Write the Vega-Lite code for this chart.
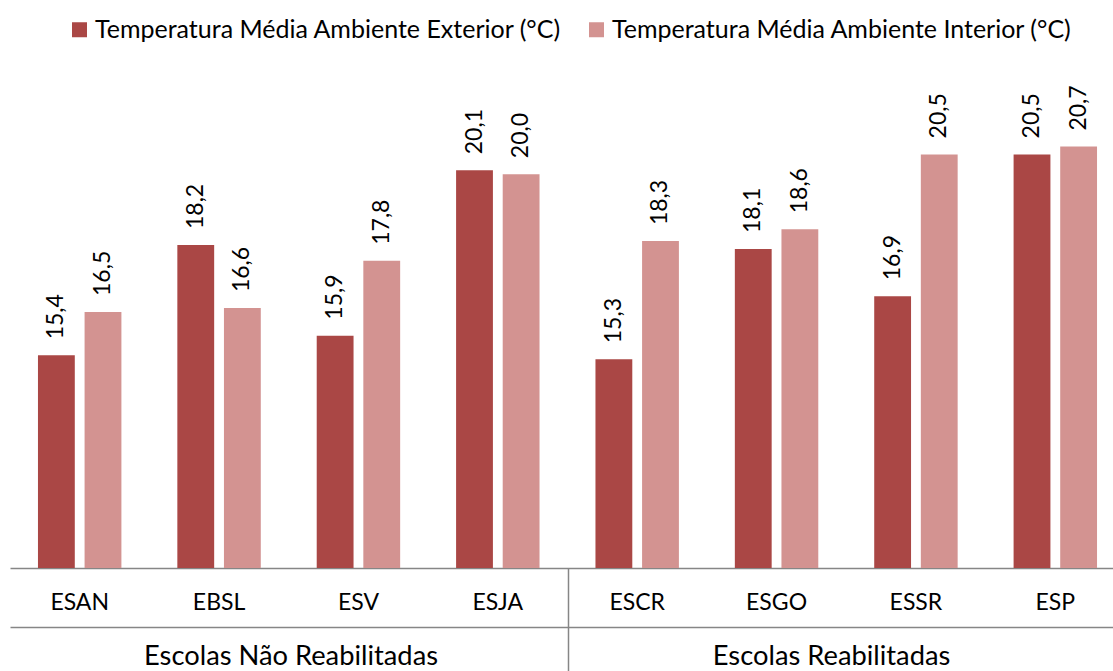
{
  "$schema": "https://vega.github.io/schema/vega-lite/v6.json",
  "width": 1103,
  "height": 512,
  "autosize": {"type": "none"},
  "padding": {"left": 10, "top": 56, "right": 0, "bottom": 103},
  "config": {
    "view": {"stroke": null},
    "font": "Lato",
    "locale": {"number": {"decimal": ",", "thousands": ".", "grouping": [3], "currency": ["", " €"]}}
  },
  "data": {
    "values": [
      {"escola": "ESAN", "grupo": "Escolas Não Reabilitadas", "serie": "Temperatura Média Ambiente Exterior (°C)", "valor": 15.4},
      {"escola": "ESAN", "grupo": "Escolas Não Reabilitadas", "serie": "Temperatura Média Ambiente Interior (°C)", "valor": 16.5},
      {"escola": "EBSL", "grupo": "Escolas Não Reabilitadas", "serie": "Temperatura Média Ambiente Exterior (°C)", "valor": 18.2},
      {"escola": "EBSL", "grupo": "Escolas Não Reabilitadas", "serie": "Temperatura Média Ambiente Interior (°C)", "valor": 16.6},
      {"escola": "ESV", "grupo": "Escolas Não Reabilitadas", "serie": "Temperatura Média Ambiente Exterior (°C)", "valor": 15.9},
      {"escola": "ESV", "grupo": "Escolas Não Reabilitadas", "serie": "Temperatura Média Ambiente Interior (°C)", "valor": 17.8},
      {"escola": "ESJA", "grupo": "Escolas Não Reabilitadas", "serie": "Temperatura Média Ambiente Exterior (°C)", "valor": 20.1},
      {"escola": "ESJA", "grupo": "Escolas Não Reabilitadas", "serie": "Temperatura Média Ambiente Interior (°C)", "valor": 20.0},
      {"escola": "ESCR", "grupo": "Escolas Reabilitadas", "serie": "Temperatura Média Ambiente Exterior (°C)", "valor": 15.3},
      {"escola": "ESCR", "grupo": "Escolas Reabilitadas", "serie": "Temperatura Média Ambiente Interior (°C)", "valor": 18.3},
      {"escola": "ESGO", "grupo": "Escolas Reabilitadas", "serie": "Temperatura Média Ambiente Exterior (°C)", "valor": 18.1},
      {"escola": "ESGO", "grupo": "Escolas Reabilitadas", "serie": "Temperatura Média Ambiente Interior (°C)", "valor": 18.6},
      {"escola": "ESSR", "grupo": "Escolas Reabilitadas", "serie": "Temperatura Média Ambiente Exterior (°C)", "valor": 16.9},
      {"escola": "ESSR", "grupo": "Escolas Reabilitadas", "serie": "Temperatura Média Ambiente Interior (°C)", "valor": 20.5},
      {"escola": "ESP", "grupo": "Escolas Reabilitadas", "serie": "Temperatura Média Ambiente Exterior (°C)", "valor": 20.5},
      {"escola": "ESP", "grupo": "Escolas Reabilitadas", "serie": "Temperatura Média Ambiente Interior (°C)", "valor": 20.7}
    ]
  },
  "encoding": {
    "xOffset": {
      "field": "serie",
      "type": "nominal",
      "scale": {
        "domain": ["Temperatura Média Ambiente Exterior (°C)", "Temperatura Média Ambiente Interior (°C)"],
        "paddingInner": 0.21,
        "paddingOuter": 0.6
      }
    },
    "y": {"field": "valor", "type": "quantitative", "scale": {"domain": [10, 23]}, "axis": null}
  },
  "layer": [
    {
      "mark": {"type": "bar"},
      "encoding": {
        "x": {
          "field": "escola",
          "type": "nominal",
          "sort": ["ESAN", "EBSL", "ESV", "ESJA", "ESCR", "ESGO", "ESSR", "ESP"],
          "scale": {"paddingInner": 0, "paddingOuter": 0, "range": [0, 1115]},
          "axis": {
            "orient": "bottom",
            "title": null,
            "ticks": false,
            "domain": true,
            "domainColor": "#868686",
            "domainWidth": 1.5,
            "labelFontSize": 23,
            "labelColor": "#000000",
            "labelPadding": 23,
            "labelAngle": 0
          }
        },
        "y2": {"datum": 10},
        "color": {
          "field": "serie",
          "type": "nominal",
          "scale": {
            "domain": ["Temperatura Média Ambiente Exterior (°C)", "Temperatura Média Ambiente Interior (°C)"],
            "range": ["#AA4745", "#D39391"]
          },
          "legend": {
            "orient": "none",
            "legendX": 57,
            "legendY": -39,
            "direction": "horizontal",
            "title": null,
            "symbolType": "square",
            "symbolSize": 225,
            "symbolStrokeWidth": 0,
            "labelFontSize": 25,
            "labelColor": "#000000",
            "labelOffset": 3,
            "columnPadding": 22,
            "labelLimit": 800
          }
        }
      }
    },
    {
      "transform": [{"filter": "datum.serie === 'Temperatura Média Ambiente Exterior (°C)'"}],
      "mark": {"type": "text", "angle": 270, "align": "left", "baseline": "middle", "dx": 16, "fontSize": 23, "color": "#000000"},
      "encoding": {
        "x": {
          "field": "escola",
          "type": "nominal",
          "sort": ["ESAN", "EBSL", "ESV", "ESJA", "ESCR", "ESGO", "ESSR", "ESP"],
          "axis": {
            "orient": "bottom",
            "title": null,
            "values": ["EBSL", "ESGO"],
            "labelExpr": "datum.value === 'EBSL' ? 'Escolas Não Reabilitadas' : 'Escolas Reabilitadas'",
            "labelOffset": {"condition": {"test": "datum.value === 'ESGO'", "value": 55}, "value": 72},
            "ticks": false,
            "domain": true,
            "domainColor": "#868686",
            "domainWidth": 1.5,
            "offset": 59,
            "labelFontSize": 27.3,
            "labelColor": "#000000",
            "labelPadding": 15,
            "labelAngle": 0,
            "labelLimit": 800
          }
        },
        "text": {"field": "valor", "type": "quantitative", "format": ".1f"}
      }
    },
    {
      "transform": [{"filter": "datum.serie === 'Temperatura Média Ambiente Interior (°C)'"}],
      "mark": {"type": "text", "angle": 270, "align": "left", "baseline": "middle", "dx": 16, "fontSize": 23, "color": "#000000"},
      "encoding": {
        "x": {
          "field": "escola",
          "type": "nominal",
          "sort": ["ESAN", "EBSL", "ESV", "ESJA", "ESCR", "ESGO", "ESSR", "ESP"],
          "axis": {
            "orient": "bottom",
            "title": null,
            "labels": false,
            "domain": false,
            "ticks": true,
            "tickBand": "extent",
            "tickSize": 103,
            "tickColor": "#868686",
            "tickWidth": 1.5,
            "tickOpacity": {"condition": {"test": "datum.value === 'ESJA'", "value": 1}, "value": 0}
          }
        },
        "text": {"field": "valor", "type": "quantitative", "format": ".1f"}
      }
    }
  ],
  "resolve": {"axis": {"x": "independent"}}
}
